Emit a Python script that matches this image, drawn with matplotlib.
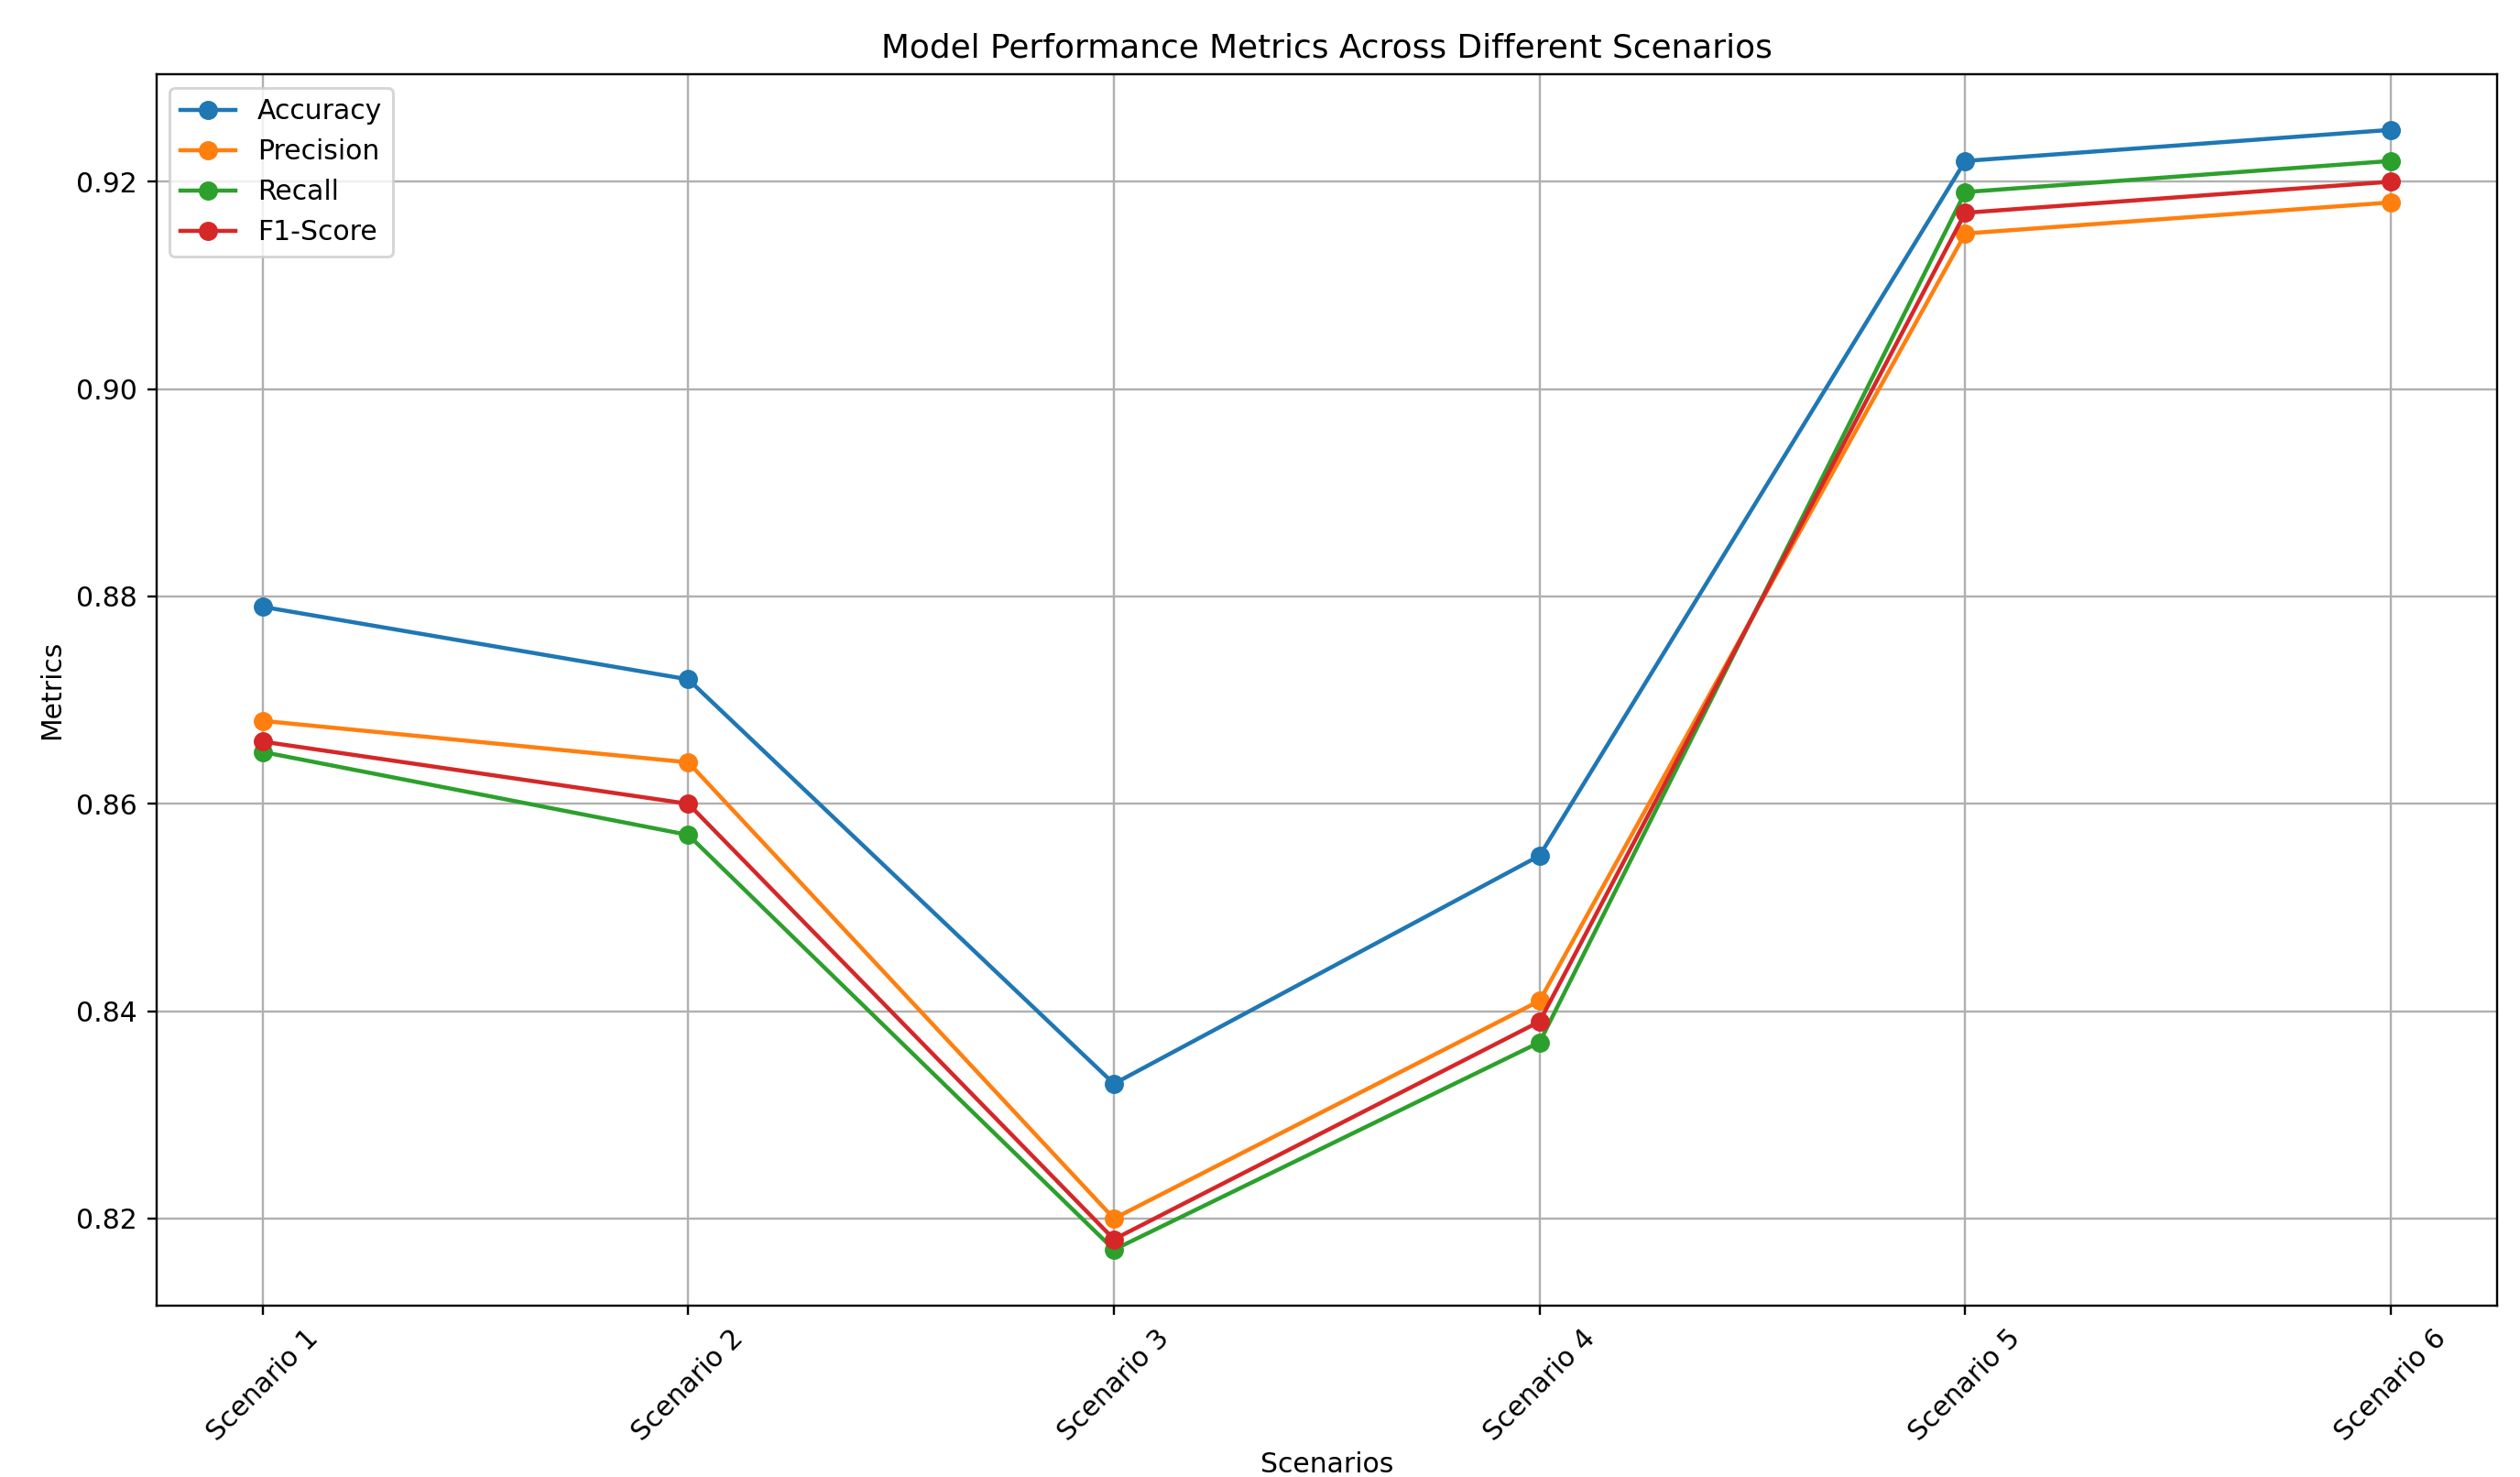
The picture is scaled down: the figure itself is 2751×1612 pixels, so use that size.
import matplotlib
matplotlib.use("Agg")
import matplotlib.pyplot as plt

# ── Data ──────────────────────────────────────────────────────────────────────
scenarios = ["Scenario 1", "Scenario 2", "Scenario 3",
             "Scenario 4", "Scenario 5", "Scenario 6"]
accuracy  = [0.879, 0.872, 0.833, 0.855, 0.922, 0.925]
precision = [0.868, 0.864, 0.820, 0.841, 0.915, 0.918]
recall    = [0.865, 0.857, 0.817, 0.837, 0.919, 0.922]
f1_score  = [0.866, 0.860, 0.818, 0.839, 0.917, 0.920]

# ── Plot ──────────────────────────────────────────────────────────────────────
DPI = 215
fig, ax = plt.subplots(figsize=(2751 / DPI, 1612 / DPI), dpi=DPI)

ax.plot(scenarios, accuracy,  marker="o", label="Accuracy")
ax.plot(scenarios, precision, marker="o", label="Precision")
ax.plot(scenarios, recall,    marker="o", label="Recall")
ax.plot(scenarios, f1_score,  marker="o", label="F1-Score")

ax.set_title("Model Performance Metrics Across Different Scenarios")
ax.set_xlabel("Scenarios", labelpad=2)
ax.set_ylabel("Metrics")
ax.legend(loc="upper left")
ax.grid(True)
plt.setp(ax.get_xticklabels(), rotation=45)

fig.subplots_adjust(left=0.062, right=0.991, top=0.950, bottom=0.116)
fig.savefig("out.png", dpi=DPI)
